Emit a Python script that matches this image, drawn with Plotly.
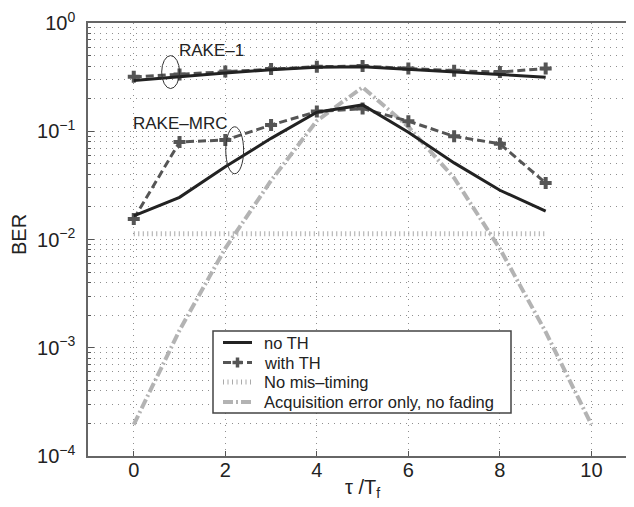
import plotly.graph_objects as go

# ---- data ----
tau = [0, 1, 2, 3, 4, 5, 6, 7, 8, 9]
rake1_no_th = [0.295, 0.32, 0.345, 0.37, 0.39, 0.395, 0.375, 0.355, 0.335, 0.315]
rake1_with_th = [0.318, 0.335, 0.357, 0.375, 0.395, 0.400, 0.380, 0.362, 0.352, 0.38]
mrc_no_th = [0.0165, 0.0245, 0.047, 0.086, 0.150, 0.175, 0.098, 0.051, 0.0285, 0.0183]
mrc_with_th = [0.0155, 0.0796, 0.083, 0.114, 0.152, 0.162, 0.124, 0.0898, 0.0765, 0.0333]
no_mistiming_mrc = [0.0113] * len(tau)

tau_acq = [0, 1, 2, 3, 4, 5, 6, 7, 8, 9, 10]
acq_only = [1.95e-4, 1.45e-3, 8.3e-3, 0.035, 0.125, 0.255, 0.11, 0.037, 0.0082, 1.4e-3, 1.95e-4]

y_tick_vals = [1e-4, 1e-3, 1e-2, 1e-1, 1]
y_tick_text = ["10<sup>\u22124</sup>", "10<sup>\u22123</sup>", "10<sup>\u22122</sup>",
               "10<sup>\u22121</sup>", "10<sup>0</sup>"]
x_tick_vals = [0, 2, 4, 6, 8, 10]

legend_names = ["no TH", "with TH", "No mis\u2013timing", "Acquisition error only, no fading"]

FONT = "Liberation Sans, Arial, Helvetica, sans-serif"
BLACK = "#222222"
DGRAY = "#555555"
LGRAY = "#b3b3b3"
GRID = "#8f8f8f"
GRID_DASH = "1px,5px"

STYLE_NOTH = dict(color=BLACK, width=3)
STYLE_TH = dict(color=DGRAY, width=3, dash="8px,4px")
STYLE_NOMIS = dict(color="#aaaaaa", width=5, dash="1px,3.5px")
STYLE_ACQ = dict(color=LGRAY, width=4, dash="10px,3px,2px,3px")

# layout geometry (page pixels; page has an 8px body margin)
PL, PR, PT, PB = 88, 634, 23, 456


def px(xp):
    return (xp - PL) / (PR - PL)


def py(yp):
    return (PB - yp) / (PB - PT)


fig = go.Figure()

fig.add_trace(go.Scatter(x=tau, y=no_mistiming_mrc, mode="lines", line=STYLE_NOMIS))
fig.add_trace(go.Scatter(x=tau_acq, y=acq_only, mode="lines", line=STYLE_ACQ))
fig.add_trace(go.Scatter(x=tau, y=rake1_with_th, mode="lines+markers", line=STYLE_TH,
                         marker=dict(symbol="cross", size=10, color=DGRAY)))
fig.add_trace(go.Scatter(x=tau, y=mrc_with_th, mode="lines+markers", line=STYLE_TH,
                         marker=dict(symbol="cross", size=10, color=DGRAY)))
fig.add_trace(go.Scatter(x=tau, y=rake1_no_th, mode="lines", line=STYLE_NOTH))
fig.add_trace(go.Scatter(x=tau, y=mrc_no_th, mode="lines", line=STYLE_NOTH))

# ellipses grouping the curves
fig.add_shape(type="circle", xref="x", yref="y", x0=0.61, x1=1.0, y0=0.248, y1=0.50,
              line=dict(color="#333333", width=1))
fig.add_shape(type="circle", xref="x", yref="y", x0=2.01, x1=2.40, y0=0.0405, y1=0.110,
              line=dict(color="#333333", width=1))

fig.add_annotation(x=1.70, y=-0.252, xref="x", yref="y", text="RAKE\u20131",
                   showarrow=False, font=dict(family=FONT, size=17, color=BLACK))
fig.add_annotation(x=1.02, y=-0.927, xref="x", yref="y", text="RAKE\u2013MRC",
                   showarrow=False, font=dict(family=FONT, size=17, color=BLACK))

# axis titles
fig.add_annotation(x=px(362), y=py(488), xref="paper", yref="paper",
                   xanchor="center", yanchor="middle",
                   text="\u03c4 /T<sub>f</sub>", showarrow=False,
                   font=dict(family=FONT, size=20, color=BLACK))
fig.add_annotation(x=px(19), y=py(235), xref="paper", yref="paper", text="BER",
                   xanchor="center", yanchor="middle",
                   textangle=-90, showarrow=False,
                   font=dict(family=FONT, size=20, color=BLACK))

# hand-drawn legend box
fig.add_shape(type="rect", xref="paper", yref="paper",
              x0=px(213), x1=px(511), y0=py(413), y1=py(331),
              fillcolor="white", line=dict(color="#444444", width=1.5), layer="above")
row_y = [342.5, 362.5, 382, 402]
styles = [STYLE_NOTH, STYLE_TH, STYLE_NOMIS, STYLE_ACQ]
for name, st, ry in zip(legend_names, styles, row_y):
    fig.add_shape(type="line", xref="paper", yref="paper",
                  x0=px(223), x1=px(252), y0=py(ry), y1=py(ry),
                  line=st, layer="above")
    fig.add_annotation(x=px(262), y=py(ry), xref="paper", yref="paper",
                       xanchor="left", yanchor="middle", text=name, showarrow=False,
                       font=dict(family=FONT, size=16.5, color=BLACK))
# "+" marker in the "with TH" sample
cx, cy = 237.5, row_y[1]
fig.add_shape(type="line", xref="paper", yref="paper",
              x0=px(cx - 5), x1=px(cx + 5), y0=py(cy), y1=py(cy),
              line=dict(color=DGRAY, width=3.5), layer="above")
fig.add_shape(type="line", xref="paper", yref="paper",
              x0=px(cx), x1=px(cx), y0=py(cy - 5), y1=py(cy + 5),
              line=dict(color=DGRAY, width=3.5), layer="above")

fig.update_layout(
    width=PR - 8, height=507 - 8,
    margin=dict(l=PL - 8, r=0, t=PT - 8, b=507 - PB, autoexpand=False),
    paper_bgcolor="white", plot_bgcolor="white",
    font=dict(family=FONT, size=20, color=BLACK),
    showlegend=False,
)

fig.update_xaxes(
    range=[-1, 10.93], tickmode="array", tickvals=x_tick_vals,
    ticks="inside", ticklen=5, tickcolor="#555555",
    showline=True, linecolor="#666666", linewidth=1.5, mirror=True,
    showgrid=True, gridcolor=GRID, griddash=GRID_DASH, gridwidth=1,
    zeroline=False, automargin=False, ticklabelstandoff=-5,
    tickfont=dict(size=20),
)

minor_vals = [m * 10 ** e for e in range(-4, 0) for m in range(2, 10)]
fig.update_yaxes(
    type="log", range=[-4, 0], tickmode="array", tickvals=y_tick_vals, ticktext=y_tick_text,
    ticks="inside", ticklen=6, tickcolor="#555555",
    showline=True, linecolor="#666666", linewidth=1.5, mirror=True,
    showgrid=True, gridcolor=GRID, griddash=GRID_DASH, gridwidth=1,
    minor=dict(tickmode="array", tickvals=minor_vals, ticks="inside", ticklen=3,
               tickcolor="#555555", showgrid=True, gridcolor=GRID,
               griddash=GRID_DASH, gridwidth=1),
    zeroline=False, automargin=False, ticklabelstandoff=7,
    tickfont=dict(size=20),
)

fig.write_html("out.html")
